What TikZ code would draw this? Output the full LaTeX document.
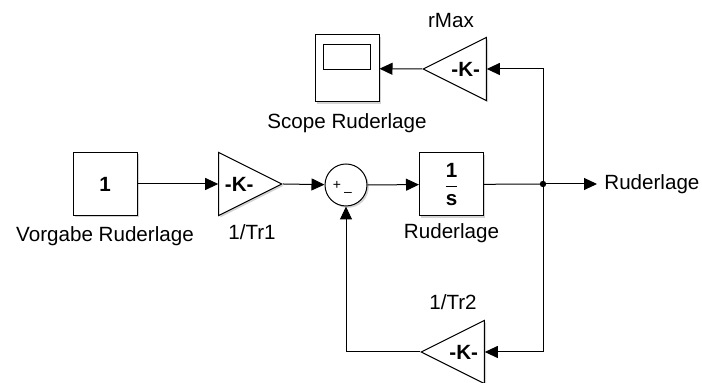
\documentclass[tikz,border=0pt]{standalone}
\usepackage{amsmath}
\usepackage{fontspec}
\setmainfont{Liberation Sans}
\usetikzlibrary{arrows.meta, positioning, shapes.geometric, shadows}

\begin{document}
\begin{tikzpicture}[x=0.5pt,y=-0.5pt,
  every node/.style={font=\fontsize{10.3}{12}\selectfont},
  shd/.style={drop shadow={shadow xshift=0.9pt,shadow yshift=-0.9pt,opacity=0.35}},
  blk/.style={draw,fill=white,shd,line width=0.5pt,minimum width=32pt,minimum height=31.5pt,inner sep=0pt,font=\fontsize{10.3}{12}\selectfont\bfseries},
  gainR/.style={draw,fill=white,shd,line width=0.5pt,isosceles triangle,isosceles triangle stretches,
    minimum width=31.5pt,minimum height=31.5pt,inner sep=0pt,font=\fontsize{10.3}{12}\selectfont\bfseries},
  gainL/.style={gainR,shape border rotate=180},
  sumc/.style={draw,fill=white,shd,circle,line width=0.5pt,minimum size=21pt,inner sep=0pt},
  sig/.style={line width=0.5pt,-{Triangle[length=6.5pt,width=6pt]}},
  lbl/.style={inner sep=1pt}]
  \useasboundingbox (0,0) rectangle (702,383);

  % blocks
  \node[blk] (const) at (105,184) {1};
  \node[gainR,anchor=apex] (tr1) at (283,184) {-K-};
  \node[sumc] (sum) at (346,185) {};
  \node[blk] (integ) at (451.5,184.5) {$\dfrac{\text{\bfseries 1}}{\text{\bfseries s}}$};
  \node[blk,minimum height=33.5pt] (scope) at (347,68.5) {};
  \node[draw,line width=0.5pt,minimum width=23.5pt,minimum height=12.5pt,inner sep=0pt,below=5pt of scope.north] (screen) {};
  \node[gainL,anchor=apex] (rmax) at (422,69) {-K-};
  \node[gainL,anchor=apex] (tr2) at (420,352) {-K-};
  \coordinate (jn) at (543,184);
  \node[lbl,anchor=west,inner sep=3.5pt] (out) at (597,184) {Ruderlage};

  % sum signs
  \node[font=\fontsize{7}{7}\selectfont,inner sep=0pt] at ([xshift=-4.5pt]sum.center) {+};
  \node[font=\fontsize{7}{7}\selectfont,inner sep=0pt] at ([xshift=1pt,yshift=-4.5pt]sum.center) {--};

  % labels
  \node[lbl,below=4pt of const] {Vorgabe Ruderlage};
  \node[lbl,below=2.5pt of integ] {Ruderlage};
  \node[lbl,below=4.5pt of scope] {Scope Ruderlage};
  \node[lbl] at (252,232) {1/Tr1};
  \node[lbl] at (451,21) {rMax};
  \node[lbl] at (453,302) {1/Tr2};

  % signals
  \draw[sig] (const) -- (tr1.lower side);
  \draw[sig] (tr1.apex) -- (sum);
  \draw[sig] (sum) -- (integ);
  \draw[line width=0.5pt] (integ) -- (jn);
  \draw[sig] (jn) -- (out);
  \fill (jn) circle[radius=1.6pt];
  \draw[sig] (jn) |- (rmax.lower side);
  \draw[sig] (rmax.apex) -- (scope);
  \draw[sig] (jn) |- (tr2.lower side);
  \draw[sig] (tr2.apex) -| (sum);
\end{tikzpicture}
\end{document}
